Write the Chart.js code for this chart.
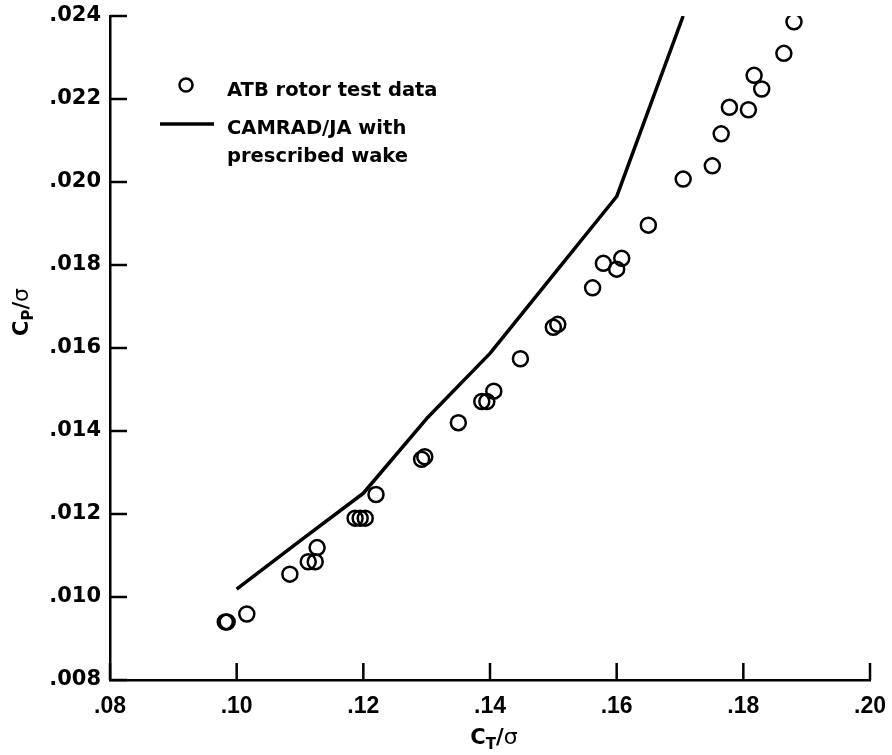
<!DOCTYPE html>
<html><head><meta charset="utf-8">
<script src="https://cdn.jsdelivr.net/npm/chart.js@4.4.1/dist/chart.umd.min.js"></script>
<style>html,body{margin:0;padding:0;background:#fff;}</style>
</head><body>
<canvas id="c" width="892" height="755"></canvas>
<script>
// ATB rotor test data (CT/sigma, CP/sigma)
const testCT = [0.0982, 0.0985, 0.1016, 0.1084, 0.1113, 0.1124, 0.1127, 0.1187, 0.1195, 0.1203, 0.1220, 0.1292, 0.1297, 0.1350, 0.1387, 0.1395, 0.1406, 0.1448, 0.1500, 0.1507, 0.1562, 0.1579, 0.1600, 0.1608, 0.1650, 0.1705, 0.1751, 0.1765, 0.1778, 0.1808, 0.1817, 0.1829, 0.1864, 0.1880];
const testCP = [0.00940, 0.00940, 0.00959, 0.01055, 0.01085, 0.01085, 0.01119, 0.01190, 0.01190, 0.01190, 0.01247, 0.01332, 0.01338, 0.01420, 0.01471, 0.01471, 0.01496, 0.01574, 0.01650, 0.01657, 0.01745, 0.01804, 0.01790, 0.01816, 0.01896, 0.02007, 0.02039, 0.02116, 0.02180, 0.02174, 0.02257, 0.02224, 0.02310, 0.02386];
// CAMRAD/JA with prescribed wake
const camCT = [0.100, 0.110, 0.120, 0.130, 0.140, 0.150, 0.160, 0.1705];
const camCP = [0.01019, 0.01135, 0.01250, 0.01430, 0.01587, 0.01776, 0.01965, 0.02400];
// axes
const xTicks = [0.08, 0.10, 0.12, 0.14, 0.16, 0.18, 0.20];
const yTicks = [0.008, 0.010, 0.012, 0.014, 0.016, 0.018, 0.020, 0.022, 0.024];
const seriesNames = ['ATB rotor test data', 'CAMRAD/JA with', 'prescribed wake'];
const xTitleParts = ['C', 'T', '/σ'];
const yTitleParts = ['C', 'P', '/σ'];

const FONT = '"DejaVu Sans", sans-serif';

function drawTitle(ctx, parts, cx, cy) {
  const fMain = 'bold 21px ' + FONT, fSub = 'bold 15px ' + FONT, fSig = '22px ' + FONT;
  ctx.font = fMain; const w0 = ctx.measureText(parts[0]).width;
  ctx.font = fSub; const w1 = ctx.measureText(parts[1]).width;
  ctx.font = fMain; const w2 = ctx.measureText('/').width;
  ctx.font = fSig; const w3 = ctx.measureText(parts[2].slice(1)).width;
  let x = cx - (w0 + w1 + w2 + w3) / 2;
  ctx.textBaseline = 'alphabetic'; ctx.textAlign = 'left';
  ctx.font = fMain; ctx.fillText(parts[0], x, cy); x += w0;
  ctx.font = fSub; ctx.fillText(parts[1], x, cy + 5); x += w1;
  ctx.font = fMain; ctx.fillText('/', x, cy); x += w2;
  ctx.font = fSig; ctx.fillText(parts[2].slice(1), x, cy);
}

const frame = {
  id: 'frame',
  afterDraw(chart) {
    const { ctx, scales: { x, y }, chartArea: a } = chart;
    ctx.save();
    ctx.strokeStyle = '#000'; ctx.fillStyle = '#000'; ctx.lineWidth = 2.5;
    x.ticks.forEach(t => { const px = x.getPixelForValue(t.value); ctx.beginPath(); ctx.moveTo(px, a.bottom); ctx.lineTo(px, a.bottom - 17); ctx.stroke(); });
    y.ticks.forEach(t => { const py = y.getPixelForValue(t.value); ctx.beginPath(); ctx.moveTo(a.left, py); ctx.lineTo(a.left + 17, py); ctx.stroke(); });
    // legend
    ctx.lineWidth = 2.5;
    ctx.beginPath(); ctx.arc(186, 85, 6.5, 0, Math.PI * 2); ctx.stroke();
    ctx.lineWidth = 3.5;
    ctx.beginPath(); ctx.moveTo(160, 124); ctx.lineTo(214, 124); ctx.stroke();
    ctx.font = 'bold 19.5px ' + FONT; ctx.textAlign = 'left'; ctx.textBaseline = 'alphabetic';
    ctx.fillText(seriesNames[0], 227, 96);
    ctx.fillText(seriesNames[1], 227, 134);
    ctx.fillText(seriesNames[2], 227, 162);
    // axis titles
    drawTitle(ctx, xTitleParts, 494, 744);
    ctx.save(); ctx.translate(28, 312); ctx.rotate(-Math.PI / 2);
    drawTitle(ctx, yTitleParts, 0, 0);
    ctx.restore();
    ctx.restore();
  }
};

function noPad(s) { s.paddingLeft = 0; s.paddingRight = 0; s.paddingTop = 0; s.paddingBottom = 0; }

new Chart(document.getElementById('c'), {
  type: 'scatter',
  data: {
    datasets: [
      { label: seriesNames[0], data: testCT.map((v, i) => ({ x: v, y: testCP[i] })),
        pointRadius: 7.5, pointBorderWidth: 2.5, borderColor: '#000', backgroundColor: 'rgba(0,0,0,0)', pointBackgroundColor: 'rgba(0,0,0,0)' },
      { label: seriesNames[1] + ' ' + seriesNames[2], data: camCT.map((v, i) => ({ x: v, y: camCP[i] })),
        showLine: true, pointRadius: 0, borderWidth: 3.5, borderColor: '#000', tension: 0, borderJoinStyle: 'round', borderCapStyle: 'butt' }
    ]
  },
  options: {
    responsive: false, animation: false, devicePixelRatio: 1,
    layout: { padding: { top: 16, right: 22, left: 0, bottom: 0 } },
    plugins: { legend: { display: false }, tooltip: { enabled: false } },
    scales: {
      x: {
        type: 'linear', min: 0.08, max: 0.20,
        afterBuildTicks: s => { s.ticks = xTicks.map(v => ({ value: v })); },
        afterFit: s => { s.height = 75; noPad(s); },
        grid: { display: false, drawTicks: false },
        border: { display: true, color: '#000', width: 2.5 },
        ticks: { color: '#000', padding: 13, font: { family: 'Liberation Sans', weight: 'bold', size: 23 },
          callback: v => v.toFixed(2).replace(/^0/, ''), maxRotation: 0, autoSkip: false }
      },
      y: {
        type: 'linear', min: 0.008, max: 0.024,
        afterBuildTicks: s => { s.ticks = yTicks.map(v => ({ value: v })); },
        afterFit: s => { s.width = 110; noPad(s); },
        grid: { display: false, drawTicks: false },
        border: { display: true, color: '#000', width: 2.5 },
        ticks: { color: '#000', padding: 9, font: { family: 'DejaVu Sans', weight: 'bold', size: 21 },
          callback: v => v.toFixed(3).replace(/^0/, ''), autoSkip: false }
      }
    }
  },
  plugins: [frame]
});
</script>
</body></html>
